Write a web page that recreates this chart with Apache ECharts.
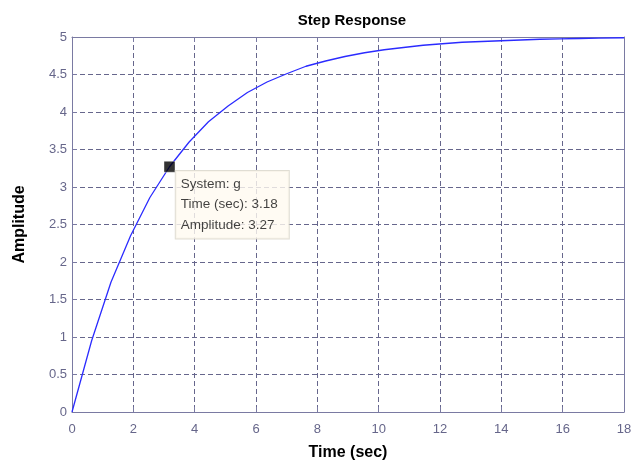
<!DOCTYPE html>
<html>
<head>
<meta charset="utf-8">
<style>
    html, body { margin: 0; padding: 0; background: #ffffff; }
    #chart { width: 638px; height: 464px; }
</style>
<script src="https://cdn.jsdelivr.net/npm/echarts@6/dist/echarts.min.js"></script>
</head>
<body>
<div id="chart"></div>
<script>
    // step response samples
    var timeVals = [0, 0.64, 1.27, 1.91, 2.54, 3.18, 3.82, 4.45, 5.09, 5.72, 6.36, 7.0, 7.63, 8.27, 8.9,
        9.54, 10.18, 10.81, 11.45, 12.08, 12.72, 13.36, 13.99, 14.63, 15.26, 15.9, 16.54, 17.17, 18];
    var ampVals = [0, 0.95, 1.73, 2.35, 2.86, 3.27, 3.6, 3.87, 4.08, 4.26, 4.4, 4.51, 4.61, 4.68, 4.74,
        4.79, 4.83, 4.86, 4.89, 4.91, 4.93, 4.94, 4.95, 4.96, 4.97, 4.975, 4.98, 4.985, 4.99];
    var tipTime = 3.18;
    var tipAmp = 3.27;
    var systemName = 'g';

    var axisCol = '#7a7aa2';
    var labelCol = '#66668a';
    var gridCol = '#66668c';
    var font = 'Arial, Liberation Sans';

    var chart = echarts.init(document.getElementById('chart'));

    var linePts = timeVals.map(function (t, i) { return [t, ampVals[i]]; });

    var xBase = {
        type: 'value', min: 0, max: 18, interval: 2,
        axisLine: { show: true, onZero: false, lineStyle: { color: axisCol, width: 1 } },
        axisTick: { show: true, inside: true, length: 5, lineStyle: { color: axisCol } }
    };
    var yBase = {
        type: 'value', min: 0, max: 5, interval: 0.5,
        axisLine: { show: true, onZero: false, lineStyle: { color: axisCol, width: 1 } },
        axisTick: { show: true, inside: true, length: 5, lineStyle: { color: axisCol } }
    };

    chart.setOption({
        animation: false,
        backgroundColor: '#ffffff',
        title: {
            text: 'Step Response', left: 347, textAlign: 'center', top: 8,
            textStyle: { fontFamily: font, fontSize: 15, fontWeight: 'bold', color: '#000' }
        },
        grid: { left: 72, right: 14, top: 37, bottom: 52, outerBoundsMode: 'none', containLabel: false },
        xAxis: [
            Object.assign({}, xBase, {
                position: 'bottom',
                name: 'Time (sec)', nameLocation: 'middle', nameGap: 33,
                nameTextStyle: { fontFamily: font, fontSize: 16, fontWeight: 'bold', color: '#000' },
                axisLabel: { color: labelCol, fontFamily: font, fontSize: 13, margin: 11 },
                splitLine: { show: true, lineStyle: { color: gridCol, type: [5, 3], width: 1 } }
            }),
            Object.assign({}, xBase, {
                position: 'top', axisLabel: { show: false }, splitLine: { show: false }
            })
        ],
        yAxis: [
            Object.assign({}, yBase, {
                position: 'left',
                name: 'Amplitude', nameLocation: 'middle', nameGap: 44,
                nameTextStyle: { fontFamily: font, fontSize: 16, fontWeight: 'bold', color: '#000' },
                axisLabel: { color: labelCol, fontFamily: font, fontSize: 13, margin: 5 },
                splitLine: { show: true, lineStyle: { color: gridCol, type: [5, 3], width: 1 } }
            }),
            Object.assign({}, yBase, {
                position: 'right', axisLabel: { show: false }, splitLine: { show: false }
            })
        ],
        series: [
            {
                type: 'line',
                data: linePts,
                showSymbol: false,
                lineStyle: { color: '#2b2bff', width: 1.3 },
                z: 3
            },
            {
                type: 'scatter',
                data: [[tipTime, tipAmp]],
                symbol: 'rect',
                symbolSize: 11,
                itemStyle: { color: '#000000', borderColor: '#ffffff', borderWidth: 0.5 },
                z: 5,
                label: {
                    show: true,
                    position: [12, 10],
                    formatter: 'System: ' + systemName + '\nTime (sec): ' + tipTime.toFixed(2) + '\nAmplitude: ' + tipAmp.toFixed(2),
                    fontFamily: font,
                    fontSize: 13.5,
                    lineHeight: 20.5,
                    color: '#111111',
                    backgroundColor: '#fffaf0',
                    borderColor: '#d8d4c8',
                    borderWidth: 1,
                    padding: [3, 11, 3, 5]
                }
            }
        ]
    });
</script>
</body>
</html>
